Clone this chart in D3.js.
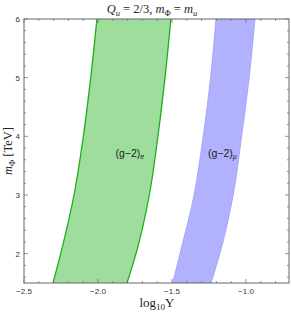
<!DOCTYPE html>
<html><head><meta charset="utf-8">
<script src="https://cdn.jsdelivr.net/npm/d3@7"></script>
<style>body{margin:0;background:#fff}svg{display:block}</style>
</head><body>
<script>
// Data
const mPhi = [1.5, 2, 3, 4, 5, 6];
const eLow  = [-2.304, -2.252, -2.162, -2.099, -2.049, -2.007];
const eHigh = [-1.804, -1.743, -1.653, -1.595, -1.547, -1.507];
const muLow  = [-1.495, -1.446, -1.351, -1.289, -1.239, -1.203];
const muHigh = [-1.236, -1.176, -1.086, -1.029, -0.978, -0.939];
const xTicks = [-2.5, -2.0, -1.5, -1.0];
const yTicks = [2, 3, 4, 5, 6];

const W = 291, H = 315;
const M = {l: 24, r: 2, t: 19, b: 32};
const svg = d3.select("body").append("svg").attr("width", W).attr("height", H);
const x = d3.scaleLinear().domain([-2.5, -0.709]).range([M.l, W - M.r]);
const y = d3.scaleLinear().domain([1.5, 6]).range([H - M.b, M.t]);

svg.append("clipPath").attr("id", "c").append("rect")
  .attr("x", x.range()[0]).attr("y", y.range()[1])
  .attr("width", x.range()[1] - x.range()[0]).attr("height", y.range()[0] - y.range()[1]);

const g = svg.append("g").attr("clip-path", "url(#c)");
function band(lo, hi, fill, stroke, sw) {
  const pts = mPhi.map((m, i) => ({m, lo: lo[i], hi: hi[i]}));
  const area = d3.area().curve(d3.curveMonotoneY)
    .y(d => y(d.m)).x0(d => x(d.lo)).x1(d => x(d.hi));
  g.append("path").datum(pts).attr("d", area).attr("fill", fill).attr("stroke", "none");
  const l1 = d3.line().curve(d3.curveMonotoneY).y(d => y(d.m)).x(d => x(d.lo));
  const l2 = d3.line().curve(d3.curveMonotoneY).y(d => y(d.m)).x(d => x(d.hi));
  g.append("path").datum(pts).attr("d", l1).attr("fill", "none").attr("stroke", stroke).attr("stroke-width", sw);
  g.append("path").datum(pts).attr("d", l2).attr("fill", "none").attr("stroke", stroke).attr("stroke-width", sw);
}
band(eLow, eHigh, "#9fdd9c", "#1fad1f", 1.3);
band(muLow, muHigh, "#b1b1fd", "#9d9dfc", 0.8);

// Frame
const axCol = "#666";
svg.append("rect").attr("x", x.range()[0]).attr("y", y.range()[1])
  .attr("width", x.range()[1] - x.range()[0]).attr("height", y.range()[0] - y.range()[1])
  .attr("fill", "none").attr("stroke", axCol).attr("stroke-width", 1);

// ticks
const xMinor = d3.range(-2.5, -0.7, 0.1).map(v => +v.toFixed(2));
const yMinor = d3.range(1.6, 6.01, 0.2).map(v => +v.toFixed(2));
const tk = svg.append("g").attr("stroke", axCol).attr("stroke-width", 0.7);
xMinor.forEach(v => {
  const major = xTicks.some(t => Math.abs(t - v) < 1e-6);
  const L = major ? 4 : 2;
  tk.append("line").attr("x1", x(v)).attr("x2", x(v)).attr("y1", y(1.5)).attr("y2", y(1.5) - L);
  tk.append("line").attr("x1", x(v)).attr("x2", x(v)).attr("y1", y(6)).attr("y2", y(6) + L);
});
yMinor.forEach(v => {
  const major = yTicks.some(t => Math.abs(t - v) < 1e-6);
  const L = major ? 4 : 2;
  tk.append("line").attr("x1", x(-2.5)).attr("x2", x(-2.5) + L).attr("y1", y(v)).attr("y2", y(v));
  tk.append("line").attr("x1", x.range()[1]).attr("x2", x.range()[1] - L).attr("y1", y(v)).attr("y2", y(v));
});

const fmt = v => (v < 0 ? "\u2212" : "") + Math.abs(v).toFixed(1);
svg.append("g").selectAll("text").data(xTicks).join("text")
  .attr("x", d => x(d)).attr("y", y(1.5) + 10.5).attr("text-anchor", "middle")
  .attr("font-family", "Liberation Sans, Arial, sans-serif").attr("font-size", 8).attr("fill", "#333")
  .text(fmt);
svg.append("g").selectAll("text").data(yTicks).join("text")
  .attr("x", x(-2.5) - 4).attr("y", d => y(d) + 3).attr("text-anchor", "end")
  .attr("font-family", "Liberation Sans, Arial, sans-serif").attr("font-size", 8).attr("fill", "#333")
  .text(d => d);

// Title
const title = svg.append("text").attr("x", 152).attr("y", 13).attr("text-anchor", "middle")
  .attr("font-family", "Liberation Serif, Times New Roman, serif").attr("font-size", 12.5).attr("fill", "#222");
title.append("tspan").attr("font-style", "italic").text("Q");
title.append("tspan").attr("font-style", "italic").attr("font-size", 8.5).attr("dy", 2.5).text("u");
title.append("tspan").attr("dy", -2.5).text(" = 2/3,  ");
title.append("tspan").attr("font-style", "italic").text("m");
title.append("tspan").attr("font-size", 8.5).attr("dy", 2.5).text("\u03A6");
title.append("tspan").attr("dy", -2.5).text(" = ");
title.append("tspan").attr("font-style", "italic").text("m");
title.append("tspan").attr("font-style", "italic").attr("font-size", 8.5).attr("dy", 2.5).text("u");

// X axis label
const xl = svg.append("text").attr("x", 157).attr("y", 307).attr("text-anchor", "middle")
  .attr("font-family", "Liberation Serif, Times New Roman, serif").attr("font-size", 13).attr("fill", "#222");
xl.append("tspan").text("log");
xl.append("tspan").attr("font-size", 9).attr("dy", 3).text("10");
xl.append("tspan").attr("dy", -3).text("Y");

// Y axis label
const yl = svg.append("text").attr("transform", `translate(12,${y(3.75)}) rotate(-90)`).attr("text-anchor", "middle")
  .attr("font-family", "Liberation Serif, Times New Roman, serif").attr("font-size", 12.5).attr("fill", "#222");
yl.append("tspan").attr("font-style", "italic").text("m");
yl.append("tspan").attr("font-size", 8.5).attr("dy", 2.5).text("\u03A6");
yl.append("tspan").attr("dy", -2.5).text(" [TeV]");

// Band labels
function blabel(px, sub) {
  const t = svg.append("text").attr("x", px).attr("y", y(3.65)).attr("text-anchor", "middle")
    .attr("font-family", "Liberation Sans, Arial, sans-serif").attr("font-size", 10.5).attr("fill", "#222");
  t.append("tspan").text("(g\u22122)");
  t.append("tspan").attr("font-size", 7).attr("font-style", "italic").attr("dy", 2).text(sub);
}
blabel(x(-1.785), "e");
blabel(x(-1.16), "\u03BC");
</script>
</body></html>
